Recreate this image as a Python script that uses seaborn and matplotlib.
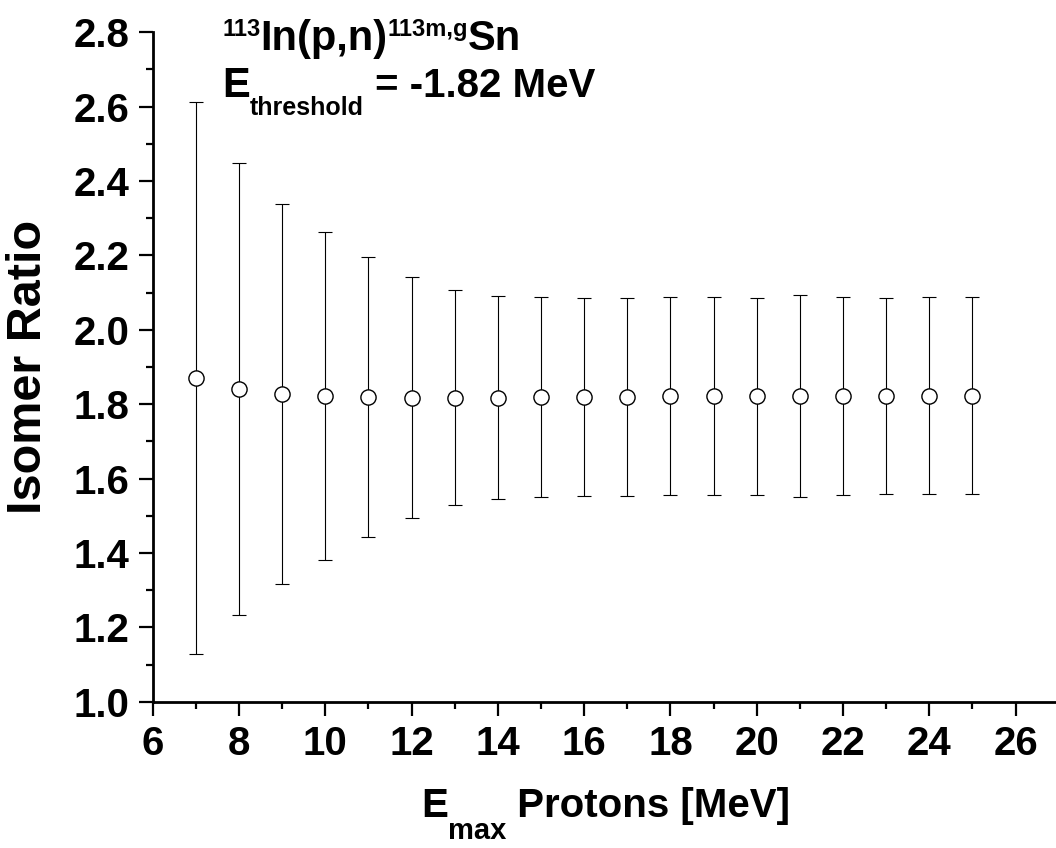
import numpy as np
import pandas as pd
import matplotlib
matplotlib.use("Agg")
import matplotlib.pyplot as plt
from matplotlib.ticker import MultipleLocator
import seaborn as sns

# Isomer ratio of 113In(p,n)113m,gSn versus maximum proton energy
energy = [7, 8, 9, 10, 11, 12, 13, 14, 15, 16, 17, 18, 19, 20, 21, 22, 23, 24, 25]
ratio = [1.870, 1.841, 1.827, 1.822, 1.819, 1.818, 1.818, 1.818, 1.819, 1.819,
         1.820, 1.821, 1.821, 1.821, 1.822, 1.822, 1.822, 1.823, 1.823]
ratio_err = [0.743, 0.607, 0.511, 0.441, 0.376, 0.323, 0.289, 0.274, 0.268, 0.266,
             0.266, 0.266, 0.266, 0.265, 0.271, 0.265, 0.264, 0.264, 0.264]

x_ticks = [6, 8, 10, 12, 14, 16, 18, 20, 22, 24, 26]
y_ticks = [1.0, 1.2, 1.4, 1.6, 1.8, 2.0, 2.2, 2.4, 2.6, 2.8]

df = pd.DataFrame({"E": energy, "R": ratio, "err": ratio_err})

sns.set_theme(style="ticks")
plt.rcParams["font.family"] = ["Liberation Sans", "DejaVu Sans"]
plt.rcParams["font.weight"] = "bold"
plt.rcParams["text.color"] = "black"
plt.rcParams["axes.labelcolor"] = "black"

fig = plt.figure(figsize=(10.56, 8.48), dpi=100)
ax = fig.add_axes([0.1446, 0.1725, 0.858, 0.7894])

ax.errorbar(df["E"], df["R"], yerr=df["err"], fmt="none", ecolor="black",
            elinewidth=0.8, capsize=5.3, capthick=0.8, zorder=2)
sns.scatterplot(data=df, x="E", y="R", ax=ax, marker="o", s=120,
                facecolor="white", edgecolor="black", linewidth=1.0, zorder=3,
                legend=False)

ax.set_xlim(6, 27)
ax.set_ylim(1.0, 2.8)
ax.set_xticks(x_ticks)
ax.set_yticks(y_ticks)
ax.set_xticklabels([str(v) for v in x_ticks])
ax.set_yticklabels([f"{v:.1f}" for v in y_ticks])
ax.xaxis.set_minor_locator(MultipleLocator(1))
ax.yaxis.set_minor_locator(MultipleLocator(0.1))

for side in ["top", "right"]:
    ax.spines[side].set_visible(False)
for side in ["left", "bottom"]:
    ax.spines[side].set_linewidth(2.0)
    ax.spines[side].set_color("black")

ax.tick_params(axis="both", which="major", direction="out", length=10, width=1.6,
               labelsize=29, pad=7, colors="black")
ax.tick_params(axis="both", which="minor", direction="out", length=5, width=1.6,
               colors="black")
for lab in ax.get_xticklabels() + ax.get_yticklabels():
    lab.set_fontweight("bold")

ax.set_xlabel("")
ax.set_ylabel("Isomer Ratio", fontsize=35, fontweight="bold", labelpad=16,
              color="black")

renderer = fig.canvas.get_renderer()


def rich_text(x, y, pieces, center=False):
    """Lay out (text, size, rise_pt) pieces side by side on a shared baseline."""
    items = []
    dx = 0.0
    for s, size, rise in pieces:
        t = ax.annotate(s, xy=(x, y), xycoords="axes fraction",
                        xytext=(dx, rise), textcoords="offset points",
                        fontsize=size, fontweight="bold", va="baseline",
                        ha="left", color="black", annotation_clip=False)
        w = t.get_window_extent(renderer).width * 72.0 / fig.dpi
        items.append((t, dx, rise))
        dx += w
    if center:
        for t, off, rise in items:
            t.xyann = (off - dx / 2.0, rise)
    return items


rich_text(0.0765, 0.9736, [("113", 17, 10), ("In(p,n)", 30, 0),
                           ("113m,g", 17, 10), ("Sn", 30, 0)])
rich_text(0.0765, 0.9033, [("E", 30, 0), ("threshold", 18, -13),
                           (" = -1.82 MeV", 29, 0)])
rich_text(0.5, -0.1718, [("E", 29, 0), ("max", 21, -16),
                         (" Protons [MeV]", 29, 0)], center=True)

fig.savefig("out.png", dpi=100)
